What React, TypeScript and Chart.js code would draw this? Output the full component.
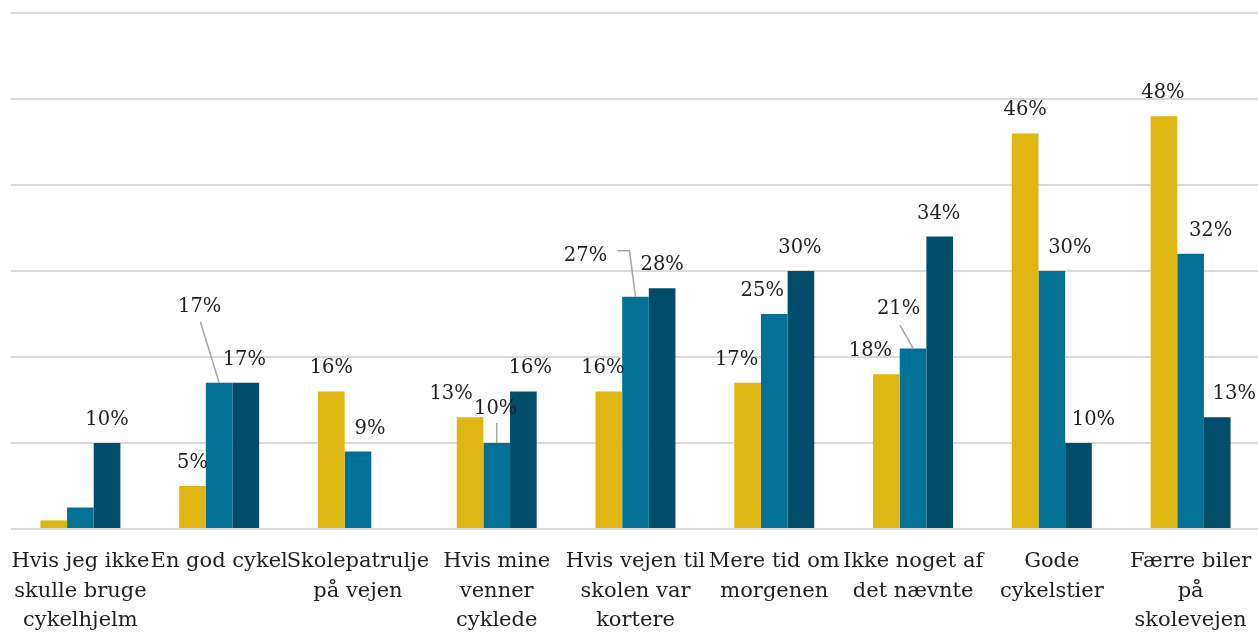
import React, { useEffect, useRef } from "react";
import { Chart, registerables } from "chart.js";

Chart.register(...registerables);

// Category labels, one entry per text line
const categories: string[][] = [
  ["Hvis jeg ikke", "skulle bruge", "cykelhjelm"],
  ["En god cykel"],
  ["Skolepatrulje", "på vejen"],
  ["Hvis mine", "venner", "cyklede"],
  ["Hvis vejen til", "skolen var", "kortere"],
  ["Mere tid om", "morgenen"],
  ["Ikke noget af", "det nævnte"],
  ["Gode", "cykelstier"],
  ["Færre biler", "på", "skolevejen"],
];

// Percentages per series
const goldValues: (number | null)[] = [1, 5, 16, 13, 16, 17, 18, 46, 48];
const tealValues: (number | null)[] = [2.5, 17, 9, 10, 27, 25, 21, 30, 32];
const navyValues: (number | null)[] = [10, 17, null, 16, 28, 30, 34, 10, 13];

// Value axis
const yMin = 0;
const yMax = 60;
const yStep = 10;

const FONT_FAMILY = '"DejaVu Serif", serif';
const TICK_FONT_SIZE = 21;
const VALUE_FONT_SIZE = 19.5;
const TEXT_COLOR = "#1f1f1f";
const GRID_COLOR = "#dadada";
const LEADER_COLOR = "#a6a6a6";

const seriesStyles = [
  { label: "Serie 1", color: "#E0B612" },
  { label: "Serie 2", color: "#037196" },
  { label: "Serie 3", color: "#024D6A" },
];

// Value labels that are not drawn (bars too small)
const hiddenLabels = new Set<string>(["0:0", "1:0"]);

type Pt = { x: number; y: number };
type Placement = {
  dx: number;
  dy: number;
  // leader line: points built from the label anchor (t) and the bar top (b)
  leader?: (t: Pt, b: Pt) => Pt[];
};

// Label placements keyed "series:category"
const placements: Record<string, Placement> = {
  "2:1": { dx: -1.5, dy: 0 },
  "1:1": {
    dx: -19.5,
    dy: -53,
    leader: (t, b) => [{ x: t.x + 0.7, y: t.y + 10 }, b],
  },
  "1:2": { dx: 12, dy: 0 },
  "0:3": { dx: -19, dy: 0 },
  "1:3": {
    dx: -1,
    dy: -11,
    leader: (t, b) => [{ x: b.x, y: t.y + 9 }, b],
  },
  "2:3": { dx: 7, dy: 0 },
  "0:4": { dx: -6, dy: 0 },
  "1:4": {
    dx: -50,
    dy: -18,
    leader: (t, b) => [
      { x: t.x + 32, y: t.y - 10 },
      { x: b.x - 6, y: t.y - 10 },
      b,
    ],
  },
  "0:5": { dx: -11, dy: 0 },
  "1:5": { dx: -12, dy: 0 },
  "2:5": { dx: -1, dy: 0 },
  "0:6": { dx: -16, dy: 0 },
  "1:6": {
    dx: -14.5,
    dy: -16,
    leader: (t, b) => [{ x: t.x + 1.5, y: t.y + 11 }, b],
  },
  "2:6": { dx: -1, dy: 0 },
  "1:7": { dx: 18, dy: 0 },
  "2:7": { dx: 15, dy: 0 },
  "0:8": { dx: -1, dy: 0 },
  "1:8": { dx: 20, dy: 0 },
  "2:8": { dx: 17, dy: 0 },
};

const LABEL_GAP = 18;

const valueLabelPlugin = {
  id: "valueLabels",
  afterDatasetsDraw(chart: any) {
    const ctx: CanvasRenderingContext2D = chart.ctx;
    ctx.save();
    ctx.font = `${VALUE_FONT_SIZE}px ${FONT_FAMILY}`;
    ctx.fillStyle = TEXT_COLOR;
    ctx.textAlign = "center";
    ctx.textBaseline = "alphabetic";
    chart.data.datasets.forEach((ds: any, si: number) => {
      const meta = chart.getDatasetMeta(si);
      meta.data.forEach((bar: any, i: number) => {
        const v = ds.data[i];
        const key = `${si}:${i}`;
        if (v == null || hiddenLabels.has(key)) return;
        const p = placements[key] || { dx: 0, dy: 0 };
        const t = { x: bar.x + p.dx, y: bar.y - LABEL_GAP + p.dy };
        if (p.leader) {
          const pts = p.leader(t, { x: bar.x, y: bar.y });
          ctx.beginPath();
          ctx.strokeStyle = LEADER_COLOR;
          ctx.lineWidth = 1.5;
          pts.forEach((q, k) => (k === 0 ? ctx.moveTo(q.x, q.y) : ctx.lineTo(q.x, q.y)));
          ctx.stroke();
        }
        ctx.fillText(`${v}%`, t.x, t.y);
      });
    });
    ctx.restore();
  },
};

export default function App() {
  const canvasRef = useRef<HTMLCanvasElement | null>(null);

  useEffect(() => {
    if (!canvasRef.current) return;
    const seriesData = [goldValues, tealValues, navyValues];
    const chart = new Chart(canvasRef.current, {
      type: "bar",
      data: {
        labels: categories,
        datasets: seriesStyles.map((s, k) => ({
          label: s.label,
          data: seriesData[k],
          backgroundColor: s.color,
          borderWidth: 0,
          categoryPercentage: 0.576,
          barPercentage: 1,
        })),
      },
      options: {
        responsive: false,
        animation: false,
        devicePixelRatio: 1,
        layout: { padding: { left: 11, top: 13, right: 6, bottom: 2 } },
        plugins: {
          legend: { display: false },
          tooltip: { enabled: false },
        },
        scales: {
          x: {
            grid: { display: false, drawTicks: false },
            border: { display: false },
            afterFit: (scale: any) => {
              // fixed label band; labels may run to the canvas edges
              scale.height = 106;
              scale.paddingLeft = 0;
              scale.paddingRight = 0;
            },
            ticks: {
              autoSkip: false,
              maxRotation: 0,
              minRotation: 0,
              padding: 18,
              color: TEXT_COLOR,
              font: { family: FONT_FAMILY, size: TICK_FONT_SIZE, lineHeight: 1.4 },
            },
          },
          y: {
            min: yMin,
            max: yMax,
            afterFit: (scale: any) => {
              scale.width = 0;
            },
            ticks: { display: false, stepSize: yStep },
            grid: { color: GRID_COLOR, lineWidth: 2, drawTicks: false },
            border: { display: false },
          },
        },
      },
      plugins: [valueLabelPlugin],
    } as any);
    return () => chart.destroy();
  }, []);

  return (
    <div
      style={{
        position: "fixed",
        left: 0,
        top: 0,
        width: 1258,
        height: 637,
        overflow: "hidden",
        background: "#ffffff",
      }}
    >
      <canvas ref={canvasRef} width={1266} height={637} style={{ display: "block" }} />
    </div>
  );
}
